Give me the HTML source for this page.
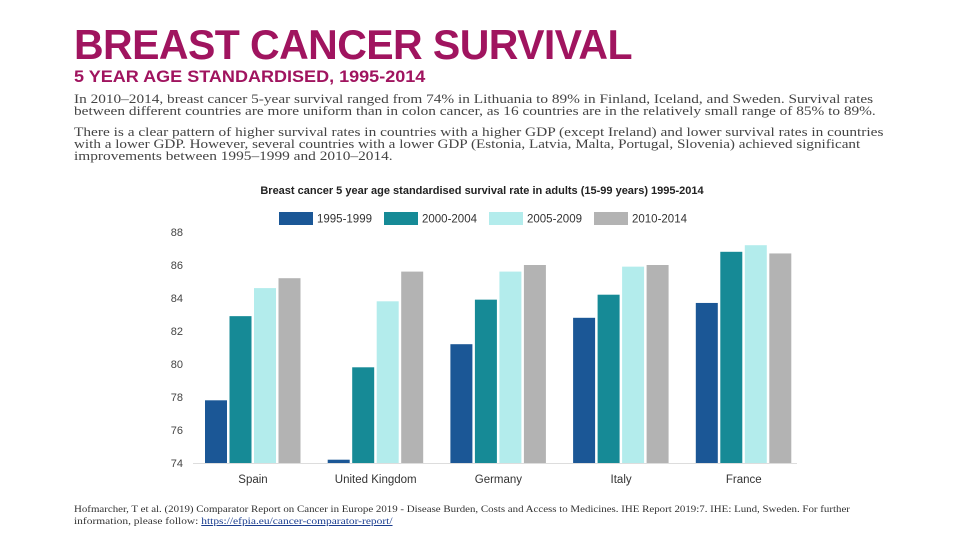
<!DOCTYPE html>
<html><head><meta charset="utf-8"><style>
body{margin:0;width:960px;height:540px;background:#fff;overflow:hidden;position:relative;font-family:"Liberation Sans",sans-serif}
.t{position:absolute;left:74px;top:21px;font-size:42px;font-weight:bold;color:#a0145f;letter-spacing:-0.6px;margin:0;white-space:nowrap;transform-origin:0 0}
.s{position:absolute;left:74px;top:67px;font-size:17px;font-weight:bold;color:#a0145f;margin:0;white-space:nowrap;transform-origin:0 0}
.l{position:absolute;left:74px;font-family:"Liberation Serif",serif;font-size:13px;line-height:13px;color:#444;white-space:nowrap;transform-origin:0 0}
.fl{position:absolute;left:74px;font-family:"Liberation Serif",serif;font-size:9.8px;line-height:11px;color:#333;white-space:nowrap;transform-origin:0 0}
.fl a{color:#1a3d8f;text-decoration:underline}
</style></head><body>
<h1 class="t" data-w="558">BREAST CANCER SURVIVAL</h1>
<h2 class="s" data-w="351">5 YEAR AGE STANDARDISED, 1995-2014</h2>
<div>
<div class="l" style="top:92px" data-w="799">In 2010–2014, breast cancer 5-year survival ranged from 74% in Lithuania to 89% in Finland, Iceland, and Sweden. Survival rates</div>
<div class="l" style="top:104px" data-w="802">between different countries are more uniform than in colon cancer, as 16 countries are in the relatively small range of 85% to 89%.</div>
</div>
<div>
<div class="l" style="top:125px" data-w="809">There is a clear pattern of higher survival rates in countries with a higher GDP (except Ireland) and lower survival rates in countries</div>
<div class="l" style="top:137px" data-w="786">with a lower GDP. However, several countries with a lower GDP (Estonia, Latvia, Malta, Portugal, Slovenia) achieved significant</div>
<div class="l" style="top:149px" data-w="319">improvements between 1995–1999 and 2010–2014.</div>
</div>
<svg id="chart" width="960" height="540" style="position:absolute;left:0;top:0"></svg>
<div>
<div class="fl" style="top:504px" data-w="776">Hofmarcher, T et al. (2019) Comparator Report on Cancer in Europe 2019 - Disease Burden, Costs and Access to Medicines. IHE Report 2019:7. IHE: Lund, Sweden. For further</div>
<div class="fl" style="top:516px" data-w="318">information, please follow: <a>https://efpia.eu/cancer-comparator-report/</a></div>
</div>
<script>
const categories=["Spain","United Kingdom","Germany","Italy","France"];
const seriesNames=["1995-1999","2000-2004","2005-2009","2010-2014"];
const s1995=[77.8,74.2,81.2,82.8,83.7];
const s2000=[82.9,79.8,83.9,84.2,86.8];
const s2005=[84.6,83.8,85.6,85.9,87.2];
const s2010=[85.2,85.6,86.0,86.0,86.7];
const yTicks=[74,76,78,80,82,84,86,88];
const series=[s1995,s2000,s2005,s2010];
const colors=["#1b5796","#168a96","#b3ecec","#b3b3b3"];
document.querySelectorAll('[data-w]').forEach(el=>{
 const w=el.scrollWidth||el.getBoundingClientRect().width;
 el.style.transform='scaleX('+(parseFloat(el.getAttribute('data-w'))/w)+')';
});
const NS="http://www.w3.org/2000/svg";
const svg=document.getElementById('chart');
const x0=193,bandW=122.7,yMin=74,yMax=88,yB=463,yT=232;
const y=v=>yB-(v-yMin)/(yMax-yMin)*(yB-yT);
function mk(tag,a,txt){const e=document.createElementNS(NS,tag);for(const k in a)e.setAttribute(k,a[k]);if(txt!=null)e.textContent=txt;svg.appendChild(e);return e;}
let e=mk('text',{x:482,y:194,'text-anchor':'middle','font-size':11,'font-weight':'bold',fill:'#222'},'Breast cancer 5 year age standardised survival rate in adults (15-99 years) 1995-2014');


const lx=[279,384,489,594];
seriesNames.forEach((n,i)=>{
 let r=mk('rect',{x:lx[i],y:212,width:34,height:13,fill:colors[i]});
 
 
 let t=mk('text',{x:lx[i]+38,y:222.5,'font-size':11.5,fill:'#333'},n);
 
 
});
yTicks.forEach(v=>{
 let t=mk('text',{x:183,y:y(v)+4,'text-anchor':'end','font-size':11,fill:'#444'},v);
 
 
});
categories.forEach((c,ci)=>{
 const gx=x0+ci*bandW+12;
 series.forEach((s,si)=>{
  let r=mk('rect',{x:gx+si*24.5,y:y(s[ci]),width:22,height:yB-y(s[ci]),fill:colors[si]});
  
  
 });
 let t=mk('text',{x:gx+48,y:483,'text-anchor':'middle','font-size':11.5,fill:'#333'},c);
 
 
});
let ax=mk('line',{x1:193,x2:797,y1:yB+0.5,y2:yB+0.5,stroke:'#ddd','stroke-width':1});


</script>
</body></html>
